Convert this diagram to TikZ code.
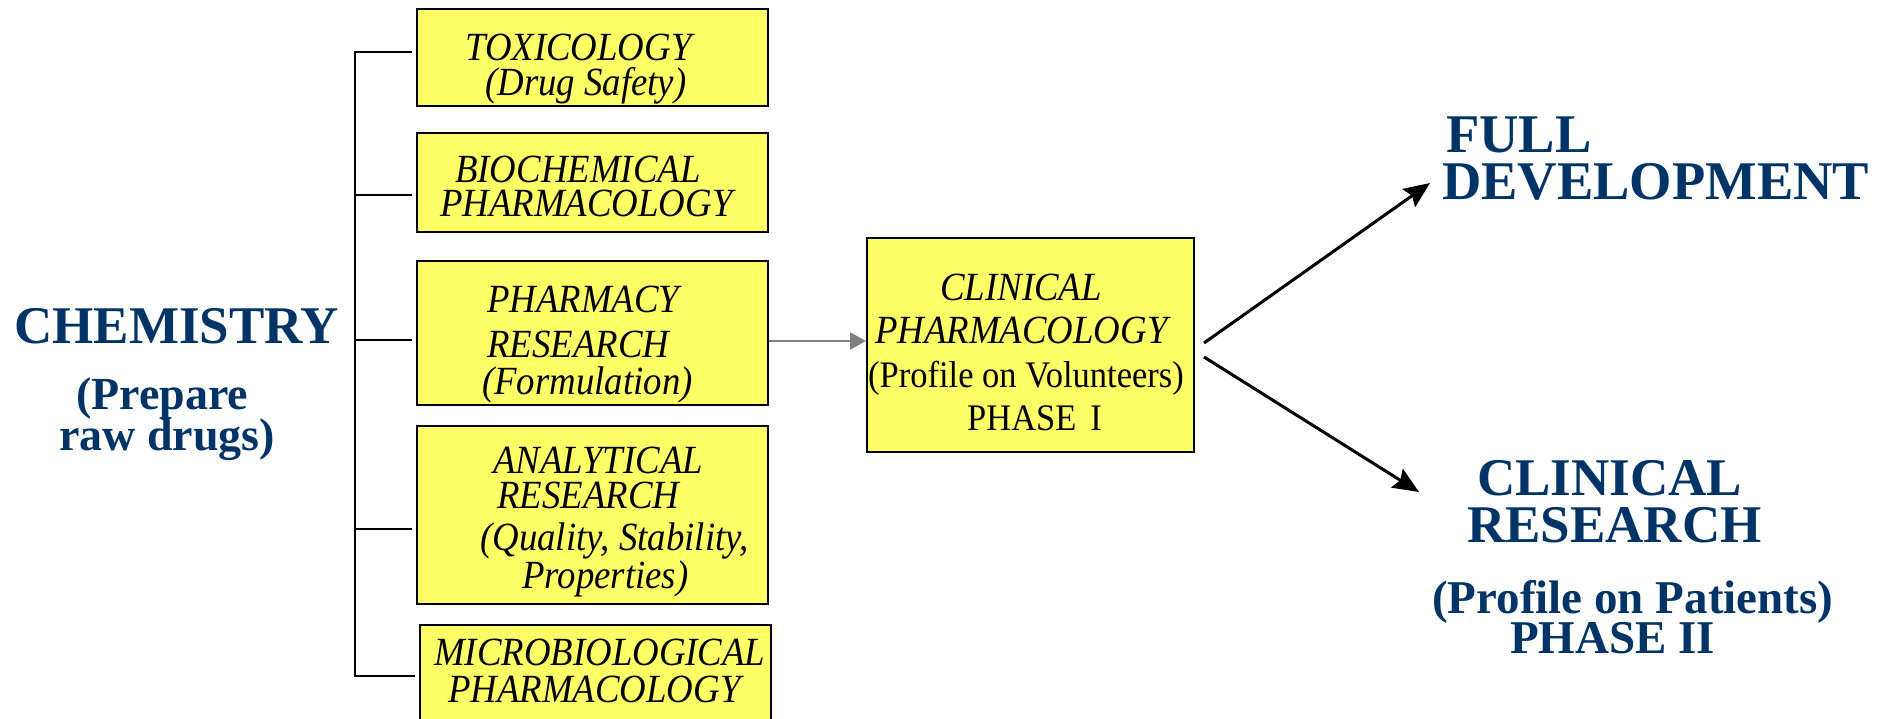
\documentclass[tikz,border=0pt]{standalone}
\usepackage{fontspec}
\setmainfont{Liberation Serif}
\newfontfamily\boxfont{Liberation Serif}[FakeStretch=0.92]
\usetikzlibrary{arrows.meta}
\definecolor{navy}{RGB}{0,51,102}
\definecolor{boxyellow}{RGB}{255,255,102}
\begin{document}
\begin{tikzpicture}[x=1pt,y=-1pt,
  stagebox/.style={draw=black, line width=2pt, fill=boxyellow, anchor=north west, inner sep=0pt},
  ln/.style={anchor=base west, inner sep=0pt},
  boxit/.style={ln, font={\boxfont\itshape\fontsize{40}{40}\selectfont}},
  boxrm/.style={ln, font={\boxfont\fontsize{37.5}{37.5}\selectfont}},
  headA/.style={ln, text=navy, font={\bfseries\fontsize{53}{53}\selectfont}},
  headB/.style={ln, text=navy, font={\bfseries\fontsize{54.5}{54.5}\selectfont}},
  subA/.style={ln, text=navy, font={\bfseries\fontsize{46}{46}\selectfont}},
  subB/.style={ln, text=navy, font={\bfseries\fontsize{47}{47}\selectfont}},
  tick/.style={line width=2.6pt},
  flow/.style={line width=3pt, -{Stealth[length=26pt,width=22pt,inset=4pt]}},
  feed/.style={draw=gray, line width=2pt, -{Triangle[length=16pt,width=17pt]}}
]
\useasboundingbox (0,0) rectangle (1881,718);
\clip (0,0) rectangle (1881,718);

% stage boxes
\node[stagebox, minimum width=351pt, minimum height=97pt]  (tox)   at (416,8)   {};
\node[stagebox, minimum width=351pt, minimum height=99pt]  (bio)   at (416,132) {};
\node[stagebox, minimum width=351pt, minimum height=144pt] (pharm) at (416,260) {};
\node[stagebox, minimum width=351pt, minimum height=178pt] (anal)  at (416,425) {};
\node[stagebox, minimum width=351pt, minimum height=130pt] (micro) at (419,624) {};
\node[stagebox, minimum width=327pt, minimum height=214pt] (clin)  at (866,237) {};

% box labels
\node[boxit] (toxA) at (465,60)  {TOXICOLOGY};
\node[boxit] (toxB) at (485,95)  {(Drug Safety)};
\node[boxit] (bioA) at (455,182) {BIOCHEMICAL};
\node[boxit] (bioB) at (440,216) {PHARMACOLOGY};
\node[boxit] (phA)  at (487,312) {PHARMACY};
\node[boxit] (phB)  at (487,357) {RESEARCH};
\node[boxit] (phC)  at (482,394) {(Formulation)};
\node[boxit] (anA)  at (493,473) {ANALYTICAL};
\node[boxit] (anB)  at (497,508) {RESEARCH};
\node[boxit] (anC)  at (480,550) {(Quality, Stability,};
\node[boxit] (anD)  at (522,588) {Properties)};
\node[boxit] (miA)  at (434,665) {MICROBIOLOGICAL};
\node[boxit] (miB)  at (448,702) {PHARMACOLOGY};
\node[boxit] (clA)  at (940,300) {CLINICAL};
\node[boxit] (clB)  at (875,343) {PHARMACOLOGY};
\node[boxrm] (clC)  at (868,387) {(Profile on Volunteers)};
\node[boxrm] (clD)  at (967,430) {PHASE\hspace{14pt}I};

% headings
\node[headA] (chem)  at (14,343)   {CHEMISTRY};
\node[subA]  (chemA) at (76,409)   {(Prepare};
\node[subA]  (chemB) at (59,450)   {raw drugs)};
\node[headB] (fullA) at (1446,152) {FULL};
\node[headB] (fullB) at (1442,199) {DEVELOPMENT};
\node[headA] (crA)   at (1477,495) {CLINICAL};
\node[headA] (crB)   at (1467,542) {RESEARCH};
\node[subB]  (crC)   at (1432,613) {(Profile on Patients)};
\node[subB]  (crD)   at (1510,653) {PHASE II};

% bracket joining chemistry to the five studies
\coordinate (j1) at (355,52);
\coordinate (j2) at (355,195);
\coordinate (j3) at (355,340);
\coordinate (j4) at (355,529);
\coordinate (j5) at (355,676);
\draw[tick, shorten <=4pt, shorten >=4pt] (j1 -| tox.west) -- (j1) -- (j5) -- (j5 -| micro.west);
\draw[tick, shorten >=4pt] (j2) -- (j2 -| bio.west);
\draw[tick, shorten >=4pt] (j3) -- (j3 -| pharm.west);
\draw[tick, shorten >=4pt] (j4) -- (j4 -| anal.west);

% formulation feeds the clinical phase
\coordinate (fb) at ([yshift=-8pt]pharm.east);
\draw[feed] (fb) -- (fb -| clin.west);

% outcomes of phase I
\coordinate (fdtip) at (1430,183);
\coordinate (crtip) at (1419,492);
\draw[flow] ([shift={(9,-2)}]clin.east) -- (fdtip);
\draw[flow] ([shift={(9,12)}]clin.east) -- (crtip);
\end{tikzpicture}
\end{document}
